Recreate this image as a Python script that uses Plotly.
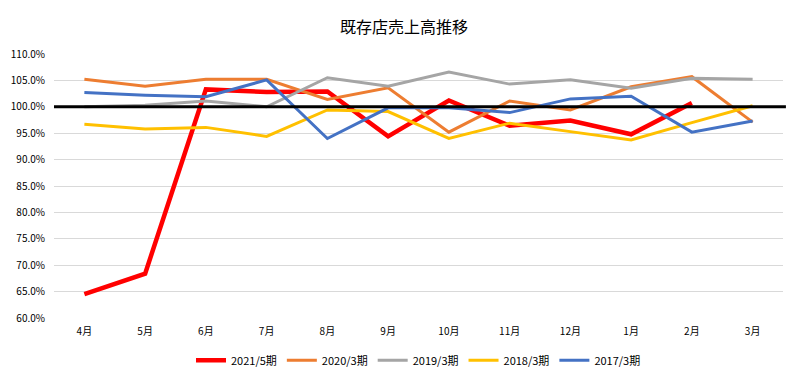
import plotly.graph_objects as go

months = ["4月", "5月", "6月", "7月", "8月", "9月", "10月", "11月", "12月", "1月", "2月", "3月"]
s2021 = [64.5, 68.4, 103.3, 102.8, 102.9, 94.4, 101.2, 96.4, 97.4, 94.8, 100.7, None]
s2020 = [105.2, 103.9, 105.2, 105.2, 101.4, 103.6, 95.2, 101.1, 99.4, 103.8, 105.7, 97.1]
s2019 = [100.0, 100.3, 101.1, 100.0, 105.5, 103.9, 106.6, 104.3, 105.1, 103.5, 105.4, 105.2]
s2018 = [96.7, 95.8, 96.1, 94.4, 99.4, 99.1, 94.0, 96.9, 95.3, 93.7, 97.0, 100.2]
s2017 = [102.7, 102.2, 101.9, 105.1, 94.0, 99.8, 99.8, 98.9, 101.5, 102.0, 95.2, 97.3]
baseline = 100.0

series = [
    ("2021/5期", s2021, "#ff0000", 4.5),
    ("2020/3期", s2020, "#ed7d31", 3),
    ("2019/3期", s2019, "#a5a5a5", 3),
    ("2018/3期", s2018, "#ffc000", 3),
    ("2017/3期", s2017, "#4472c4", 3),
]

fig = go.Figure()
for name, vals, color, w in series:
    fig.add_trace(go.Scatter(x=months, y=vals, mode="lines", name=name,
                             line=dict(color=color, width=w), connectgaps=False))

fig.add_shape(type="line", xref="paper", yref="y", x0=0, x1=1.004, y0=baseline, y1=baseline,
              line=dict(color="black", width=3), layer="above")

font = "Noto Sans CJK JP"
fig.update_layout(
    width=792, height=371,
    margin=dict(l=46, r=17, t=46, b=61, autoexpand=False),
    paper_bgcolor="white", plot_bgcolor="white",
    title=dict(text="既存店売上高推移", x=0.5, xanchor="center", y=0.949, yanchor="middle",
               font=dict(family=font, size=16, color="#000000"), automargin=False),
    font=dict(family=font, size=10, color="#000000"),
    showlegend=True,
    legend=dict(orientation="h", x=0.5, xanchor="center", y=-0.16, yanchor="middle",
                font=dict(family=font, size=11, color="#000000"), itemwidth=30),
    xaxis=dict(range=[-0.5, 11.5], showgrid=False, showline=False, ticks="",
               ticklabelstandoff=6, tickfont=dict(size=10), automargin=False),
    yaxis=dict(range=[60, 110], dtick=5, tickformat=".1f", ticksuffix="%",
               showgrid=True, gridcolor="#d9d9d9", gridwidth=1, zeroline=False,
               showline=False, ticks="", ticklabelstandoff=8, tickfont=dict(size=10),
               automargin=False),
)

fig.write_html("out.html")
